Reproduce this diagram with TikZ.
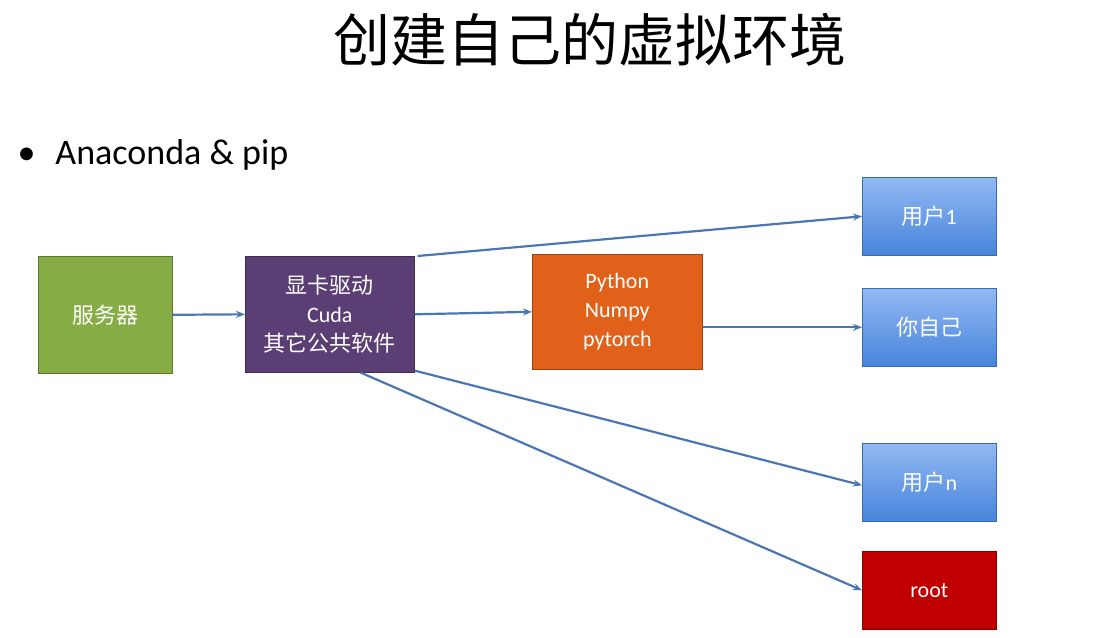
\documentclass[tikz,border=0pt]{standalone}
\usepackage{fontspec}
\setmainfont{Carlito}
\newfontfamily\cjk{Noto Sans CJK SC}
\usetikzlibrary{arrows.meta}
\definecolor{arr}{HTML}{4A77B4}
\definecolor{grn}{HTML}{86AC45}
\definecolor{pur}{HTML}{5A3E74}
\definecolor{org}{HTML}{E2611A}
\definecolor{blt}{HTML}{92B9F2}
\definecolor{blb}{HTML}{4784DC}
\definecolor{rd}{HTML}{C00000}
\tikzset{
 box/.style={draw=#1!70!black, line width=0.6pt, fill=#1, text=white, minimum width=134pt, minimum height=117pt, anchor=north west, align=center, font=\fontsize{22}{29}\selectfont, inner sep=0pt},
 ubox/.style={draw=blb!80!black, line width=0.6pt, top color=blt, bottom color=blb, text=white, minimum width=134pt, minimum height=78pt, anchor=north west, font=\fontsize{22}{26}\selectfont, inner sep=0pt},
 con/.style={draw=arr, line width=2.2pt, -{Stealth[length=9pt,width=7pt]}}
}
\begin{document}
\begin{tikzpicture}[x=1pt,y=1pt]
\useasboundingbox (0,0) rectangle (1118,-637);
\fill[white] (0,0) rectangle (1118,-637);
\node (title) at (590,-40) {\cjk\fontsize{57}{62}\selectfont 创建自己的虚拟环境};
\node[anchor=west] (bul) at (14,-155) {\fontsize{36}{42}\selectfont •\hspace{20pt}Anaconda \& pip};
\node[box=grn] (srv) at (38,-256) {\cjk 服务器};
\node[box=pur, minimum width=169pt, minimum height=116pt] (drv) at (245,-256) {\cjk 显卡驱动\\Cuda\\\cjk 其它公共软件};
\node[box=org, minimum width=170pt, minimum height=115pt] (py) at (532,-254) {Python\\Numpy\\pytorch};
\node[ubox] (u1) at (862,-177) {{\cjk 用户}1};
\node[ubox] (me) at (862,-288) {\cjk 你自己};
\node[ubox] (un) at (862,-443) {{\cjk 用户}n};
\node[box=rd, minimum height=78pt] (root) at (862,-551) {root};
\draw[con] (srv.east) -- (drv.west);
\draw[con] (drv.east) -- (py.west);
\draw[con] ([xshift=3pt]drv.north east) -- (u1.west);
\draw[con] (py.east |- me.west) -- (me.west);
\draw[con] ([yshift=2pt]drv.south east) -- ([yshift=-3pt]un.west);
\draw[con] ([xshift=-54pt]drv.south east) -- (root.west);
\end{tikzpicture}
\end{document}
